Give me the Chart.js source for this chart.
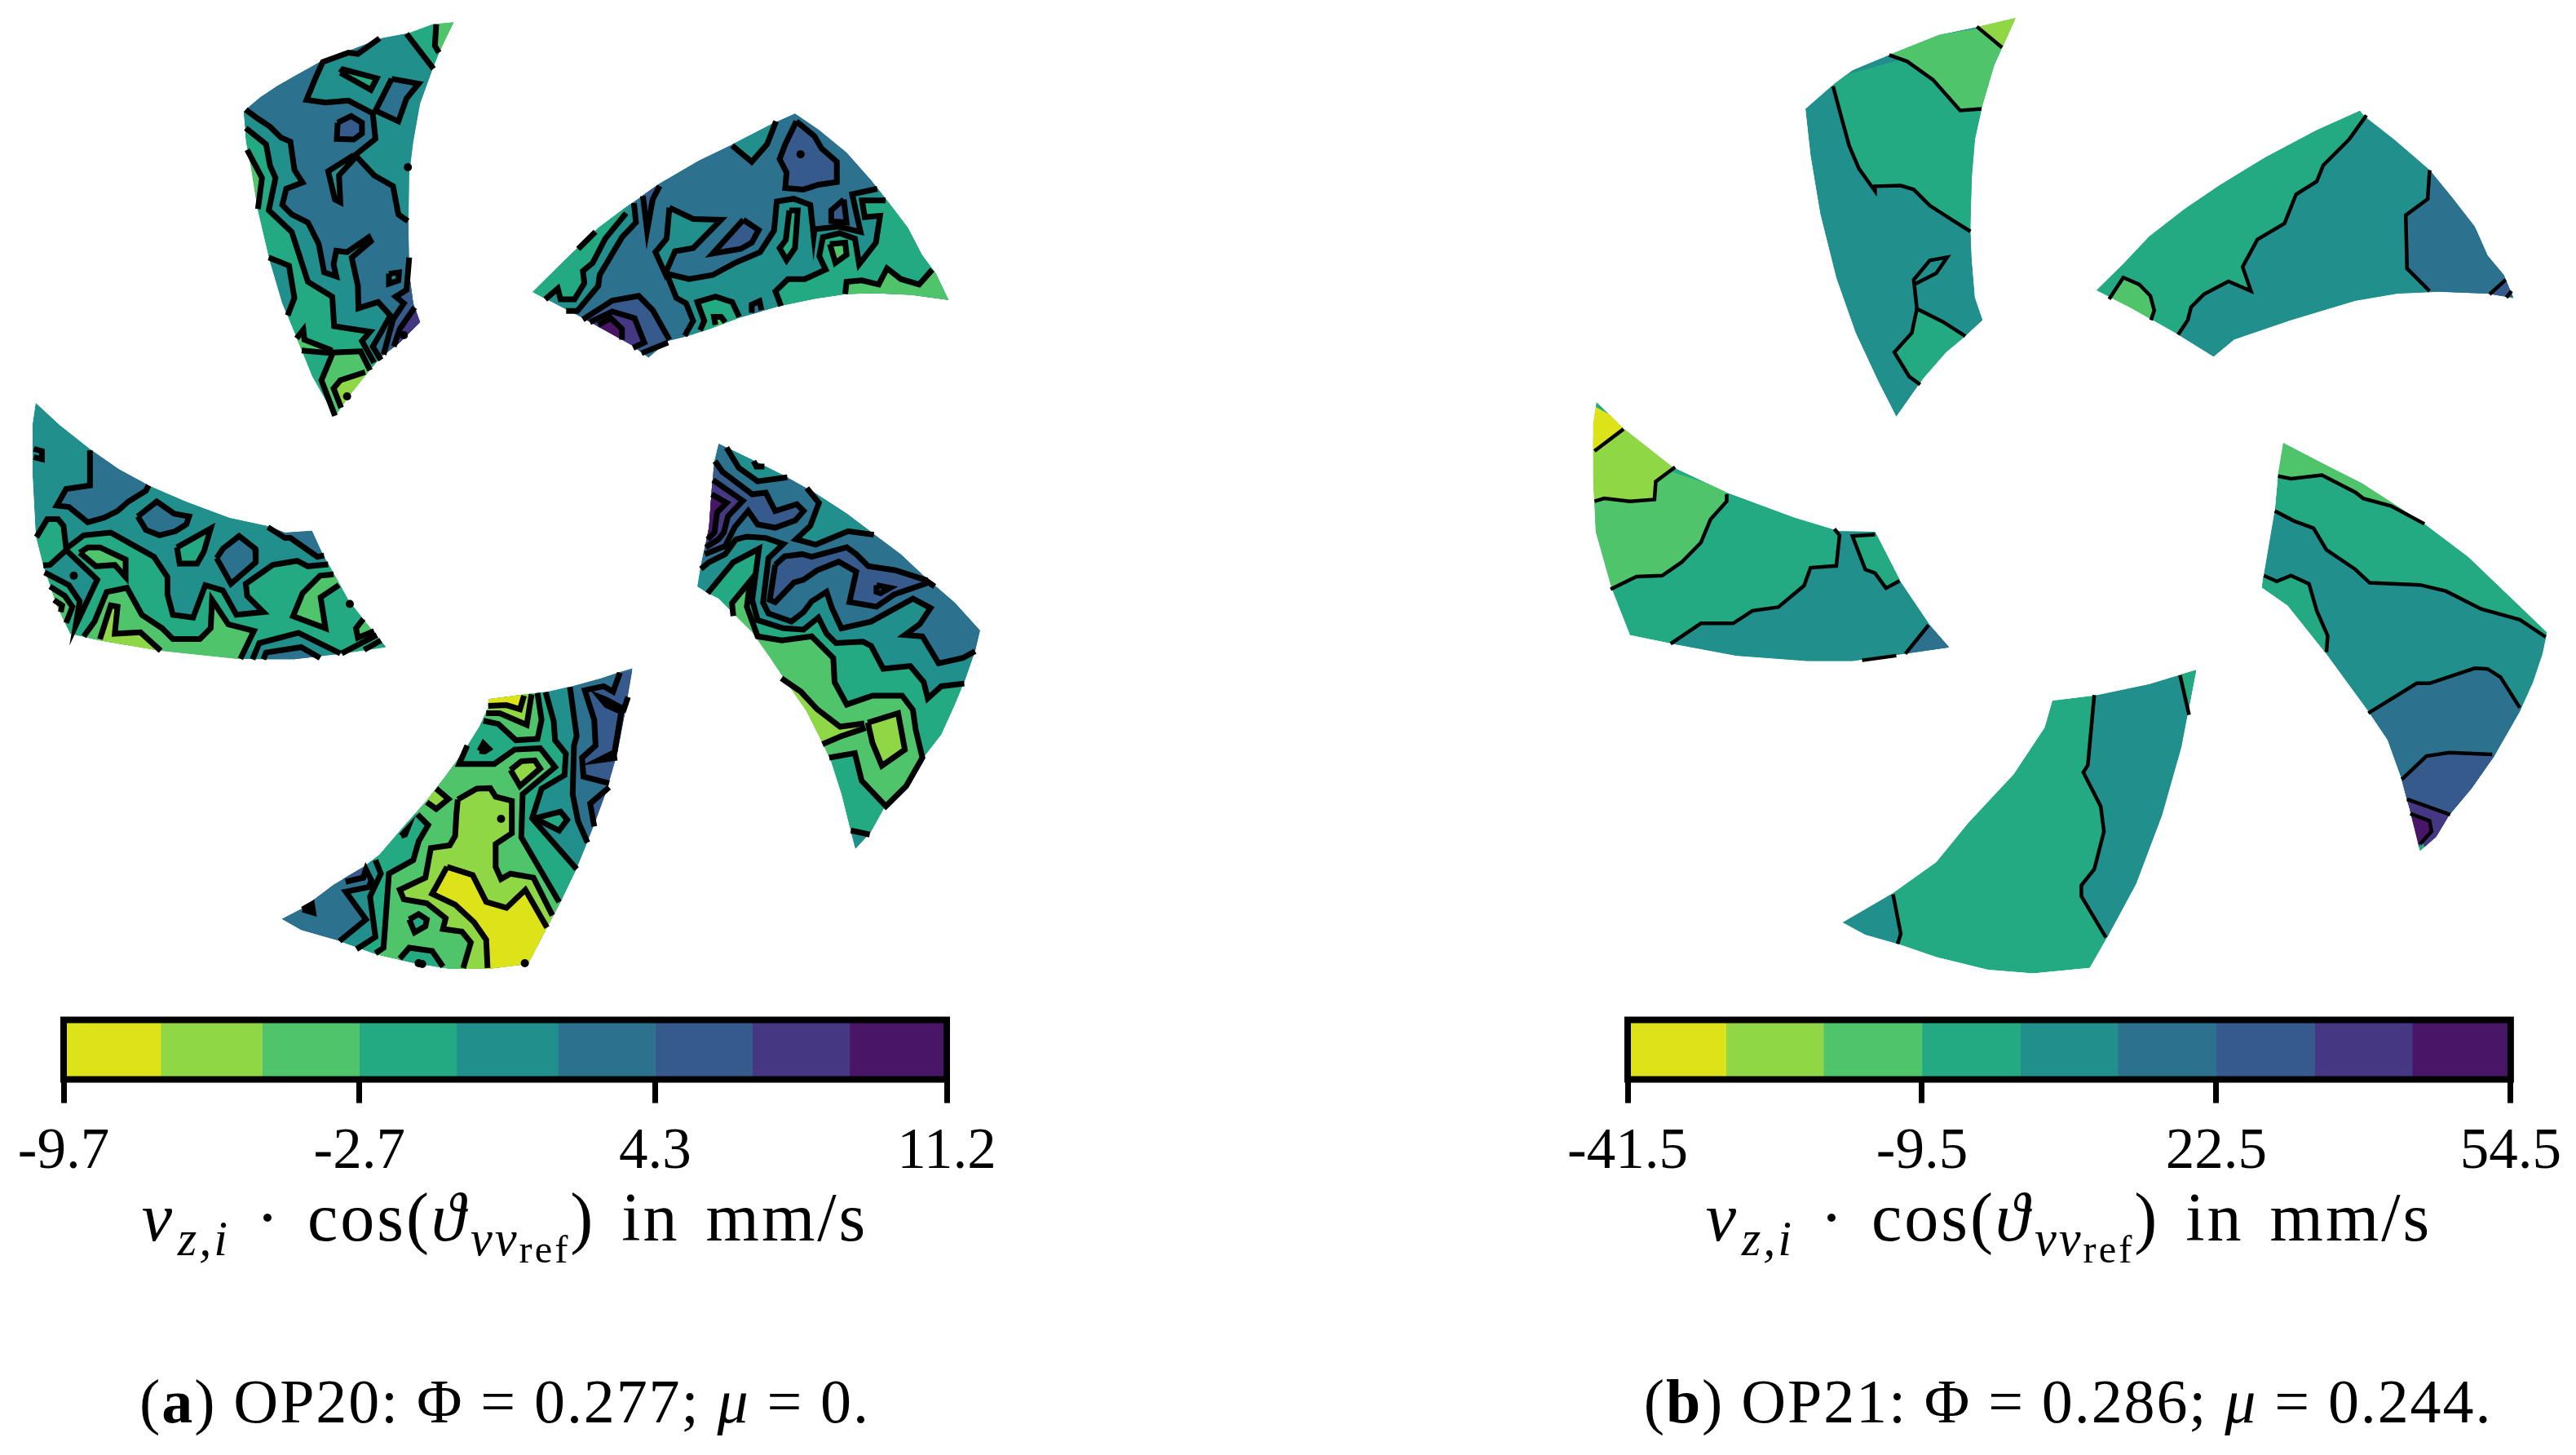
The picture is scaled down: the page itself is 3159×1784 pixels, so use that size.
<!DOCTYPE html>
<html>
<head>
<meta charset="utf-8">
<title>OP20 / OP21 contour maps</title>
<script src="https://cdn.jsdelivr.net/npm/chart.js@4/dist/chart.umd.min.js"></script>
<style>
  html, body { margin: 0; background: #fff; }
  #page { position: relative; width: 3159px; height: 1784px; overflow: hidden; font-family: "Liberation Serif", serif; color: #000; }
  #page canvas { position: absolute; }
  .label { position: absolute; white-space: nowrap; line-height: 1; transform: translateX(-50%); }
  .axis { font-size: 84px; letter-spacing: 3px; word-spacing: 8px; }
  .caption { font-size: 76px; letter-spacing: 1.9px; }
  .sub { font-size: 0.72em; position: relative; top: 0.3em; margin-left: 0.06em; }
  .subsub { font-size: 0.8em; position: relative; top: 0.18em; }
  i { font-style: italic; }
</style>
</head>
<body>
<div id="page">
  <canvas id="mapA" width="1580" height="1220" style="left:0;top:0"></canvas>
  <canvas id="mapB" width="1579" height="1220" style="left:1580px;top:0"></canvas>
  <canvas id="barA" width="1240" height="220" style="left:0;top:1230px"></canvas>
  <canvas id="barB" width="1293" height="220" style="left:1866px;top:1230px"></canvas>
  <div class="label axis" style="left:619px;top:1451px"><i>v</i><span class="sub"><i>z,i</i></span> · cos(<i>ϑ</i><span class="sub"><i>vv</i><span class="subsub">ref</span></span>) in mm/s</div>
  <div class="label axis" style="left:2537px;top:1451px"><i>v</i><span class="sub"><i>z,i</i></span> · cos(<i>ϑ</i><span class="sub"><i>vv</i><span class="subsub">ref</span></span>) in mm/s</div>
  <div class="label caption" style="left:619px;top:1680px">(<b>a</b>) OP20: Φ = 0.277; <i>μ</i> = 0.</div>
  <div class="label caption" style="left:2536px;top:1680px">(<b>b</b>) OP21: Φ = 0.286; <i>μ</i> = 0.244.</div>
</div>
<script>
// --- Colour bands (yellow = lowest) ---
const bandColors = ["#dce319", "#8fd744", "#4fc46a", "#24aa83", "#21908d", "#2c728e", "#375a8c", "#453781", "#481567"];

const edgesA = [-9.7, -7.4, -5.0, -2.7, -0.4, 2.0, 4.3, 6.6, 8.9, 11.2];
const ticksA = [-9.7, -2.7, 4.3, 11.2];
const edgesB = [-41.5, -30.8, -20.2, -9.5, 1.2, 11.8, 22.5, 33.2, 43.8, 54.5];
const ticksB = [-41.5, -9.5, 22.5, 54.5];

// --- Blade data. Outlines and contours are flat x,y lists in each blade's own survey grid.
// A region is [band, run, hidden, run, hidden, ...]: runs are contour lines, hidden
// pieces only close the fill outside the blade. One run alone = closed island. null = line only.

const a1Outline = [825,37,745,45,655,78,555,97,470,130,335,182,240,235,170,275,110,315,47,368,55,480,75,580,100,740,140,910,190,1080,240,1200,300,1350,385,1500,440,1420,500,1345,560,1275,620,1230,700,1150,675,1080,660,970,657,800,660,600,675,480,700,340,745,215,780,130];
const a1Regions = [
  [4, [55,430,130,490,145,570,165,615,140,735,225,815,285,1000,375,1055,382,1165,515,1185,485,1220,530,1300], [720,1180,720,800,760,220], [750,210,650,80], [500,60,40,340]],
  [2, [760,45,755,125,770,150], [800,170,850,30,760,30]],
  [5, [55,362,100,395,145,425,185,465,220,480,235,585,265,632,205,655,190,715,225,750,285,780,325,860,345,965,390,980,380,935,390,885,430,890,510,835,518,850,447,910,470,1015,472,1098,545,1075,590,1125,560,1180,525,1240,555,1290], [640,1250,720,1120,720,780], [655,775,620,750,600,645,530,605,460,530,535,470,525,375,435,328,350,335,280,325,315,240,340,185,435,150,470,155,550,97], [450,110,30,340]],
  [4, [455,530,360,590,385,695,405,705,400,605,455,545]],
  [6, [395,410,445,385,485,410,485,450,455,472,392,470]],
  [4, [585,970,622,965,620,995,585,1007]],
  [3, [405,225,415,212,540,245,518,288]],
  [5, [595,247,695,265,650,320,620,405,535,365]],
  [2, [60,510,115,615,100,730], [60,740,40,520]],
  [4, [140,910,215,940,235,1060,210,1125], [170,1130,110,920]],
  [2, [243,1210,268,1178,272,1215,375,1255], [265,1255,225,1240]],
  [null, [262,1255,375,1265]],
  [2, [385,1497,335,1365,378,1262,480,1258,515,1328], [540,1360,420,1530,385,1520]],
  [1, [408,1467,380,1395,405,1365,497,1335], [520,1350,430,1480]],
  [6, [660,910,650,1030,610,1055,640,1080,600,1140,565,1270], [600,1270,720,1140,720,910]],
  [7, [680,1095,625,1175,603,1240], [640,1250,720,1160,700,1090]],
];
const a1Dots = [655,575,640,1198,430,1425];

const a2Outline = [65,708,180,590,300,470,390,400,520,305,660,220,780,160,930,80,1005,45,1090,105,1190,190,1280,295,1340,375,1410,470,1460,570,1510,640,1555,737,1420,718,1290,712,1190,715,1080,732,950,760,800,805,700,845,610,875,550,890,480,952,420,905,350,865,280,825,190,775];
const a2Regions = [
  [4, [780,165,850,225,905,160,937,75], [940,40,760,120]],
  [4, [1300,325,1210,345,1240,485,1160,465,1075,475,1072,500,1060,385,1000,362,940,372,930,480,880,560,790,600,710,645,625,660,545,640,580,730,615,750,640,815,610,870], [620,900,1000,790,1570,760,1400,300]],
  [3, [1330,368,1245,368,1255,430,1310,425,1295,525,1235,605,1220,510,1165,490,1105,505,1092,575,1115,625,1040,660,980,660,935,705,955,760], [950,790,1570,760,1400,340]],
  [2, [1185,715,1190,670,1245,665,1305,680,1335,620,1385,660,1450,680,1497,625], [1570,620,1570,760,1180,740]],
  [2, [1130,530,1185,525,1190,570,1150,600]],
  [3, [985,405,1015,405,1005,545,975,590,950,545,972,515]],
  [4, [555,395,640,437,740,440,640,545,575,557,540,640,505,560,545,510]],
  [6, [820,440,875,478,850,525,810,548,710,565]],
  [6, [1010,75,1075,130,1100,175,1155,225,1155,300,1090,310,1035,328,970,322,975,265,950,215,970,160]],
  [6, [1180,365,1190,450,1135,445,1135,405]],
  [3, [665,850,680,815,655,745,720,725,780,745,805,800], [800,830,680,870]],
  [2, [720,830,715,800,740,800,755,820], [740,840]],
  [5, [850,785,850,755,878,742,885,775], [880,790,855,800]],
  [4, [185,778,225,778,300,685,305,645,385,505,435,450,428,378], [400,360,30,700,170,800]],
  [3, [110,735,155,695,165,735,215,735,250,675,245,630,280,600,325,510,400,415], [380,380,30,690,90,740]],
  [null, [228,548,290,485]],
  [6, [460,352,475,480,495,365,520,315], [500,300,450,340]],
  [6, [245,810,350,740,445,722,495,775,555,885], [], [550,895,455,935], [420,920,230,820]],
  [7, [270,820,350,780,430,805,465,895,425,915], [400,920,260,830]],
  [8, [300,830,345,805,385,845,385,885], [360,890,290,840]],
];
const a2Dots = [1025,197];

const a3Outline = [125,40,270,110,380,165,470,215,600,300,700,375,800,450,890,535,1000,630,1093,733,1075,810,1035,925,1000,1010,950,1120,880,1210,800,1330,740,1390,690,1480,632,1543,610,1460,580,1340,540,1215,510,1150,450,1030,380,930,320,840,250,740,180,670,125,615,85,595,47,570,60,490,80,400,90,350,100,210,110,100];
const a3Regions = [
  [4, [85,595,180,480,275,430,250,620,270,695,365,725,440,730,495,685,525,745,560,780,660,775,690,790,735,875,835,865,885,925,900,985,950,940,1035,930], [1060,950,1120,700,130,20,30,590]],
  [5, [60,505,90,480,150,450,190,395,230,385,300,390,365,412,310,465,290,630,310,670,395,700,440,665,470,625,525,590,545,650,580,725,690,700,845,615,910,650,870,710,815,750,880,755,940,855,1030,835,1075,810], [1100,830,1120,720,700,350,130,20,30,500]],
  [4, [155,55,200,130,270,180,380,165], [380,140,150,40]],
  [4, [452,205,497,260,465,345,412,395,485,415,605,365,700,378], [720,350,470,190]],
  [null, [255,105,265,125,295,125]],
  [6, [335,490,370,458,435,450,470,460,600,425,635,450,680,495,780,510,890,545,890,560,775,600,710,645,610,628,635,515,570,478,490,510,440,545,405,555,335,628,315,620]],
  [null, [890,545,925,570]],
  [5, [710,565,760,575,725,595,710,590]],
  [6, [112,105,140,145,250,228,300,222,335,290,415,265,440,290,410,325,335,352,270,340,235,290,185,350,150,420,75,450], [40,460,80,100]],
  [7, [105,175,215,252,160,310,145,370,125,395,78,425], [40,430,70,170]],
  [8, [100,228,155,260,120,295,110,370,85,395], [50,400,70,220]],
  [2, [180,680,175,632,242,550,230,645,270,755,360,770,470,755,550,835,555,925,600,1008,695,975,805,975,845,1028,855,1100,880,1205,820,1310,745,1385,655,1290,630,1188,535,1205], [500,1210,300,900,150,690]],
  [1, [358,910,430,960,490,1025,575,1090,665,1078], [], [670,1095,580,1125,510,1155], [470,1160,330,920]],
  [1, [678,1075,790,1040,815,1175,730,1235,695,1150]],
  [4, [615,1475,685,1490], [700,1560,600,1560]],
];
const a3Dots = [];

const a4Outline = [1337,33,1285,48,1220,70,1110,100,1025,120,920,133,805,148,800,185,770,250,720,330,640,440,570,530,490,620,400,725,340,770,230,835,110,925,37,963,110,1005,250,1045,390,1095,520,1125,660,1148,800,1148,950,1130,1030,975,1070,900,1130,775,1185,640,1240,490,1280,350,1310,190];
const a4Regions = [
  [4, [1105,103,1130,285,1120,320,1115,500,1135,600,1170,680], [1170,700,1100,1000,800,1170,300,1080,252,1060], [252,1045,350,965,275,862,360,845,370,820,350,780,340,810,275,825], [250,800,340,750,800,130,1105,85]],
  [3, [1015,122,1045,230,1050,300,1090,350,1085,430,1000,480,965,590,1130,778], [1150,790,1100,1000,800,1170,300,1090], [315,1075,385,1030,365,880,405,795,385,745], [370,730,790,130,1015,100]],
  [3, [975,590,1070,565,1095,595,1065,635]],
  [4, [770,340,785,312,805,332,790,342]],
  [4, [480,655,503,630,495,650]],
  [2, [725,320,695,388,825,388,900,335,995,330,1050,400,930,500,925,660,1065,900], [1080,920,1000,1170,500,1150,385,1105], [385,1090,415,1070,435,795,525,745,545,675,580,615,540,575], [520,560,700,310]],
  [2, [785,228,840,240,905,300,985,295,1000,225,985,125], [985,110,790,130,770,225]],
  [3, [510,965,545,945,575,965,570,990,530,1013]],
  [3, [475,1110,510,1070,595,1082,635,1140], [640,1160,470,1130]],
  [1, [690,520,760,480,810,478,830,510,890,525,890,645,830,685,830,770,850,815,885,795,970,810,1040,950], [1050,980,950,1170,720,1170], [710,1145,738,1050,705,1010,635,1000,645,960,575,905,490,890,475,855,570,810,590,700,660,690,680,655,685,570,690,520], []],
  [1, [885,410,925,378,975,375,995,405,920,470]],
  [1, [610,480,655,518,610,555,575,530], [560,520,590,470]],
  [1, [795,200,845,200,945,243,963,130], [960,110,790,130,780,200]],
  [0, [803,173,870,170,920,185,935,135], [935,115,790,130,790,173]],
  [0, [650,770,745,800,795,900,870,922,940,855,1020,995], [1030,1010,950,1170,810,1170], [800,1145,795,1040,750,975,680,910,595,870,650,770], []],
  [6, [1290,50,1265,120,1230,100,1160,115,1195,225,1200,320,1150,365,1155,435,1250,460], [1300,470,1360,40]],
  [6, [1250,475,1180,535,1195,620], [1220,630,1290,480]],
  [7, [1320,140,1305,185,1240,150,1215,140,1240,170,1295,195,1270,345,1210,375,1280,365], [1320,360,1350,140]],
  [6, [275,825,340,810,350,780], [330,760,260,810]],
  [6, [115,928,150,908,155,940]],
];
const a4Dots = [850,592,545,1127,558,1130,938,1127];

const a5Outline = [42,38,130,120,250,215,350,285,460,345,600,405,760,465,900,495,965,520,1065,513,1100,590,1150,680,1200,770,1270,860,1340,945,1170,970,1000,990,800,990,500,958,280,920,170,895,120,790,70,640,42,530,30,300,30,120];
const a5Regions = [
  [5, [243,215,243,345,155,358,120,420,165,425,235,482,295,465,345,440,385,405,450,365,460,345], [460,330,250,200]],
  [5, [420,460,490,405,555,450,610,460,600,490,560,515,500,530,450,510]],
  [3, [565,575,690,505,665,590,640,635,575,635]],
  [5, [712,615,735,580,795,533,855,580,857,630,765,710]],
  [5, [902,500,965,540,985,540,1085,610,1110,605], [1120,590,1080,500,910,480]],
  [null, [35,210,65,218,65,248,35,240]],
  [3, [45,537,85,470,125,470,145,495,155,580,220,530,320,520,400,565,480,610,530,685,530,750,550,825,625,835,670,715,735,735,785,825,885,815,825,755,820,710,920,640,1010,625,1050,645,1125,638], [1150,660,1350,980,170,930,30,540]],
  [4, [70,642,95,640,155,585,270,695,190,865,205,775,165,715,75,668], [50,660]],
  [2, [205,595,235,575,280,575,375,620,375,685,335,640,265,645]],
  [2, [220,905,260,850,305,740,380,725,435,825,510,875,550,915,650,915,690,875,695,770,755,860,850,885,800,988], [800,1010,220,930]],
  [1, [280,915,320,790,345,795,335,895,430,890,505,958], [500,980,270,940]],
  [4, [845,990,870,930,1015,892,1170,968], [1170,1000,840,1010]],
  [5, [885,990,895,965,1025,945,1095,985], [1095,1010,880,1010]],
  [2, [1145,675,1095,680,1030,745,995,830,1115,875,1097,760,1165,715], [1180,700,1160,670]],
  [2, [1255,840,1228,875,1235,910,1295,885], [1300,870,1260,830]],
  [null, [1175,968,1305,900]],
  [null, [1258,955,1320,920]],
  [2, [95,720,150,755,178,795,155,855], [130,860,70,720]],
  [1, [110,770,140,790,135,815], [100,810,95,770]],
];
const a5Dots = [183,680,1205,785];

const b1Outline = [723,53,665,80,605,105,530,165,470,215,437,265,397,335,405,480,420,660,445,860,475,1030,510,1180,538,1290,580,1170,615,1090,645,1040,672,990,660,920,655,800,653,700,655,550,660,430,672,320,690,200];
const b1Regions = [
  [3, [440,265,450,340,465,450,480,520,505,590,505,575,545,573,565,585,590,635,625,680,653,715], [680,715,700,320,640,130,440,240]],
  [2, [527,168,555,188,595,245,637,340,670,335], [700,340,740,60,530,130]],
  [1, [663,80,702,145], [730,145,740,40,660,60]],
  [3, [645,1040,610,995,570,955,562,1030,535,1090,558,1165,575,1190], [600,1190,680,1040]],
  [null, [570,955,565,865,590,805,617,795,600,845,567,878]],
];
const b2Outline = [1257,340,1190,400,1110,485,1040,570,985,645,930,730,890,815,848,898,900,950,975,1035,1030,1103,1062,1050,1150,990,1250,930,1315,908,1380,902,1455,908,1495,922,1480,850,1455,790,1435,700,1400,610,1365,525,1310,430,1265,360];
const b2Regions = [
  [4, [1267,355,1240,430,1200,510,1190,560,1158,600,1140,690,1098,740,1075,825,1088,900,1053,870,1015,910,995,950,990,990,975,1035], [1020,1120,1520,930,1300,340]],
  [5, [1365,525,1362,615,1328,665,1330,830,1365,900], [1510,920,1390,510]],
  [6, [1483,865,1458,910], [1520,925,1500,860]],
  [null, [1492,900,1484,920]],
  [2, [868,925,890,858,915,880,932,915,938,960,933,990], [920,990,850,920]],
];
const b3Outline = [1138,52,1200,110,1260,165,1355,275,1425,370,1495,490,1547,580,1540,640,1525,720,1505,800,1465,925,1430,1015,1395,1090,1375,1150,1350,1190,1335,1080,1320,980,1300,880,1270,800,1205,640,1145,505,1105,455,1108,420,1125,240,1130,140];
const b3Regions = [
  [2, [1130,145,1150,152,1198,142,1250,190,1262,207,1305,228,1357,278], [1370,270,1140,30,1110,145]],
  [4, [1125,242,1155,270,1185,290,1205,350,1250,405,1272,442,1350,448,1390,465,1445,515,1505,545,1545,593], [1570,600,1420,1220,1300,1000,1080,470,1105,230]],
  [3, [1108,422,1128,438,1150,422,1178,445,1190,520,1207,590,1205,635], [1180,640,1090,460]],
  [5, [1270,805,1345,722,1365,722,1435,680,1455,682,1475,705,1505,790], [1530,790,1420,1220,1300,1000,1260,820]],
  [6, [1322,990,1360,925,1395,915,1462,920], [1490,925,1400,1220,1310,1000]],
  [7, [1330,1045,1397,1088], [1420,1090,1370,1220,1320,1050]],
  [8, [1335,1085,1365,1105,1368,1135,1350,1170], [1345,1200,1320,1090]],
];
const b4Outline = [1003,685,930,725,850,755,780,770,768,845,720,975,650,1110,600,1220,530,1310,455,1388,490,1422,540,1448,600,1485,680,1520,750,1530,838,1515,865,1430,910,1280,950,1090,980,900];
const b4Regions = [
  [4, [845,755,835,950,828,970,855,1065,860,1135,845,1240,825,1285,825,1315,863,1430], [900,1440,1020,680,850,730]],
  [3, [978,700,992,810], [1020,810,1020,680,975,690]],
  [4, [533,1310,545,1420,540,1448], [520,1460,440,1390,525,1300]],
];
const b5Outline = [73,-62,115,12,190,118,275,190,380,260,450,298,505,300,545,440,590,560,620,622,550,640,470,660,400,660,290,645,190,612,125,588,97,460,72,300,68,150,68,0];
const b5Regions = [
  [2, [275,195,275,215,250,265,235,330,205,385,175,422,135,425,95,460], [70,460,50,200,100,80,270,180]],
  [1, [195,120,165,160,163,210,125,215,85,207,70,215], [50,220,50,50,110,0]],
  [0, [115,14,70,75], [50,75,50,-70,100,-20]],
  [4, [442,292,450,310,445,395,405,400,395,450,355,510,315,520,285,555,235,555,188,612], [190,640,470,680,640,640,530,280,450,280]],
  [3, [505,308,470,312,490,405,505,415,522,457,543,437], [560,430,520,295]],
  [5, [588,560,552,640], [560,660,640,630,600,550]],
  [null, [485,658,538,645]],
];

// --- Layout: where each blade's grid lands on the page [originX, originY, scaleX, scaleY] ---
const panelA = [
  { outline: a1Outline, base: 3, regions: a1Regions, dots: a1Dots, frame: [280, 10, 3, 3] },
  { outline: a2Outline, base: 5, regions: a2Regions, dots: a2Dots, frame: [630, 120, 2.904, 3] },
  { outline: a3Outline, base: 3, regions: a3Regions, dots: a3Dots, frame: [840, 530, 3, 3] },
  { outline: a4Outline, base: 5, regions: a4Regions, dots: a4Dots, frame: [330, 810, 3, 3] },
  { outline: a5Outline, base: 4, regions: a5Regions, dots: a5Dots, frame: [25, 480, 3, 3] },
];
const panelB = [
  { outline: b1Outline, base: 4, regions: b1Regions, dots: [], frame: [1900, 1, 1.2645, 2.529] },
  { outline: b2Outline, base: 3, regions: b2Regions, dots: [], frame: [1900, 1, 1.2645, 2.529] },
  { outline: b3Outline, base: 3, regions: b3Regions, dots: [], frame: [1900, 520, 1.2645, 2.272] },
  { outline: b4Outline, base: 3, regions: b4Regions, dots: [], frame: [1900, 520, 1.2645, 2.272] },
  { outline: b5Outline, base: 3, regions: b5Regions, dots: [], frame: [1900, 520, 1.2645, 2.272] },
];

function toPoints(flat, frame) {
  const pts = [];
  for (let i = 0; i + 1 < flat.length; i += 2) {
    pts.push({ x: frame[0] + flat[i] / frame[2], y: frame[1] + flat[i + 1] / frame[3] });
  }
  return pts;
}

function fillDataset(points, band) {
  return {
    data: points, fill: "shape", backgroundColor: bandColors[band],
    borderWidth: 0, borderColor: "transparent", pointRadius: 0,
  };
}

function lineDataset(points, width) {
  return {
    data: points, fill: false, borderColor: "#000", borderWidth: width,
    borderCapStyle: "butt", borderJoinStyle: "miter", pointRadius: 0,
  };
}

function drawMap(canvasId, blades, xMin, xMax, lineWidth, dotRadius) {
  const fills = [];
  const lines = [];
  const dots = [];
  for (const blade of blades) {
    fills.push(fillDataset(toPoints(blade.outline, blade.frame), blade.base));
    for (const region of blade.regions) {
      const band = region[0];
      const runs = region.slice(1);
      const closedIsland = runs.length === 1 && band !== null;
      if (band !== null) {
        fills.push(fillDataset(toPoints(runs.flat(), blade.frame), band));
      }
      runs.forEach((run, i) => {
        if (i % 2 === 1 || !run.length) return;
        const pts = toPoints(run, blade.frame);
        if (closedIsland) pts.push(pts[0]);
        lines.push(lineDataset(pts, lineWidth));
      });
    }
    dots.push(...toPoints(blade.dots, blade.frame));
  }
  const dotSet = {
    data: dots, showLine: false, pointRadius: dotRadius,
    pointBackgroundColor: "#000", pointBorderWidth: 0,
  };
  // chart.js paints the last dataset first, so fills go to the end in reverse
  const datasets = [dotSet, ...lines, ...fills.reverse()];
  const lastFillIndex = lines.length + 1;

  const bladeClip = {
    id: "bladeClip",
    beforeDatasetsDraw(chart) {
      const { ctx, scales } = chart;
      ctx.save();
      ctx.beginPath();
      for (const blade of blades) {
        toPoints(blade.outline, blade.frame).forEach((p, i) => {
          const px = scales.x.getPixelForValue(p.x);
          const py = scales.y.getPixelForValue(p.y);
          if (i === 0) ctx.moveTo(px, py);
          else ctx.lineTo(px, py);
        });
        ctx.closePath();
      }
      ctx.clip();
    },
    afterDatasetDraw(chart, args) {
      // contour lines may poke over the blade edge, so only the fills stay clipped
      if (args.index === lastFillIndex) chart.ctx.restore();
    },
  };

  return new Chart(document.getElementById(canvasId), {
    type: "line",
    data: { datasets },
    options: {
      responsive: false,
      animation: false,
      layout: { padding: 0 },
      plugins: { legend: { display: false }, tooltip: { enabled: false } },
      scales: {
        x: { type: "linear", display: false, min: xMin, max: xMax },
        y: { type: "linear", display: false, min: 0, max: 1220, reverse: true },
      },
    },
    plugins: [bladeClip],
  });
}

function drawColorbar(canvasId, edges, tickValues, padLeft, padRight) {
  const datasets = bandColors.map((color, i) => ({
    data: [[edges[i], edges[i + 1]]],
    backgroundColor: color,
    borderWidth: 0,
    grouped: false,
    barPercentage: 1,
    categoryPercentage: 1,
  }));
  const frame = {
    id: "barFrame",
    afterDatasetsDraw(chart) {
      const { ctx, chartArea: a } = chart;
      ctx.save();
      ctx.strokeStyle = "#000";
      ctx.lineWidth = 8;
      ctx.strokeRect(a.left, a.top, a.right - a.left, a.bottom - a.top);
      ctx.restore();
    },
  };
  return new Chart(document.getElementById(canvasId), {
    type: "bar",
    data: { labels: ["band"], datasets },
    options: {
      indexAxis: "y",
      responsive: false,
      animation: false,
      layout: { padding: { left: padLeft, right: padRight, top: 20.5, bottom: 0 } },
      plugins: { legend: { display: false }, tooltip: { enabled: false } },
      scales: {
        y: { display: false },
        x: {
          type: "linear",
          min: edges[0],
          max: edges[edges.length - 1],
          afterBuildTicks: (axis) => { axis.ticks = tickValues.map((v) => ({ value: v })); },
          afterFit: (axis) => { axis.height = 126.5; },
          border: { display: false },
          grid: { drawOnChartArea: false, drawTicks: true, tickLength: 29, tickWidth: 7, tickColor: "#000" },
          ticks: {
            autoSkip: false, maxRotation: 0, padding: 18, color: "#000",
            font: { family: "Liberation Serif", size: 71 },
            callback: (v) => v.toFixed(1),
          },
        },
      },
    },
    plugins: [frame],
  });
}

drawMap("mapA", panelA, 0, 1580, 7, 5);
drawMap("mapB", panelB, 1580, 3159, 4.5, 3);
drawColorbar("barA", edgesA, ticksA, 78, 79);
drawColorbar("barB", edgesB, ticksB, 130, 80);
</script>
</body>
</html>
